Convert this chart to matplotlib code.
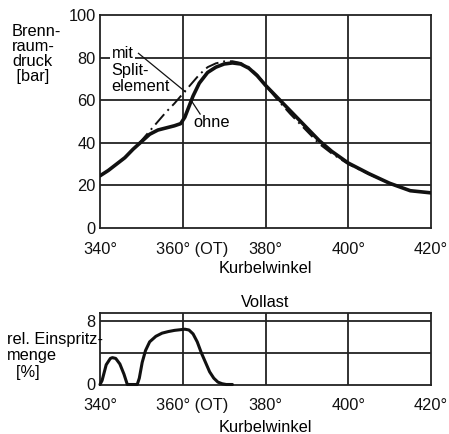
import matplotlib
matplotlib.use("Agg")
import matplotlib.pyplot as plt
import matplotlib.transforms as mtransforms

plt.rcParams['font.family'] = ['Liberation Sans', 'DejaVu Sans']

# ---- data: combustion chamber pressure ----
angle_ohne = [340, 342, 344, 346, 348, 350, 352, 354, 356, 358, 359.5, 360.5, 361.5,
              362.5, 364, 366, 368, 370, 372, 374, 376, 378, 380, 383, 386, 390,
              393, 396, 400, 405, 410, 415, 420]
p_ohne = [24.5, 27, 30, 33, 37, 40.5, 44, 46, 47, 48, 49, 52, 57,
          62, 68, 73, 75.5, 77, 77.5, 77, 75, 71.5, 67, 61, 55, 47,
          41, 36, 30.5, 25.5, 21, 17.5, 16.5]

angle_mit = [340, 342, 344, 346, 348, 350, 352, 354, 356, 358, 360, 362, 364, 366,
             368, 370, 372, 374, 376, 378, 380, 383, 386, 390, 393, 396, 400, 405,
             410, 415, 420]
p_mit = [24.5, 27, 30, 33, 37, 41, 45.5, 50, 54.5, 58.5, 63, 67.5, 72, 75.5,
         77.3, 78.2, 78.3, 77.5, 75.5, 72, 67, 60, 53.5, 45.5, 39.5, 35, 30, 25.3,
         21, 17.5, 16.5]

# ---- data: relative injection quantity ----
angle_inj = [340, 340.5, 341.5, 342.5, 343, 343.8, 344.8, 345.8, 346.6, 347, 349,
             349.5, 350.2, 351, 352, 353.5, 355, 356.5, 358, 360.5, 361.5, 362.5,
             363.5, 364.5, 365.5, 366.5, 367.5, 368.5, 369.5, 370.5, 372]
q_inj = [0, 0.5, 2.5, 3.3, 3.4, 3.3, 2.6, 1.3, 0, 0, 0,
         0.8, 2.8, 4.3, 5.4, 6.1, 6.5, 6.7, 6.85, 7.0, 6.9, 6.4,
         5.4, 4.0, 2.8, 1.6, 0.8, 0.3, 0.1, 0, 0]

x_ticks = [340, 360, 380, 400, 420]
x_labels = ['340°', '360° (OT)', '380°', '400°', '420°']
y_ticks_top = [0, 20, 40, 60, 80, 100]
y_ticks_bot = [0, 8]

W, H = 449, 434
fig = plt.figure(figsize=(W / 100, H / 100), dpi=100)

def ax_rect(l, t, r, b):
    return [l / W, 1 - b / H, (r - l) / W, (b - t) / H]

FS = 11.8
LW_GRID = 1.3
INK = '#111111'

ax1 = fig.add_axes(ax_rect(100, 15, 431, 228))
ax2 = fig.add_axes(ax_rect(100, 313, 431, 384.5))

for ax in (ax1, ax2):
    for s in ax.spines.values():
        s.set_linewidth(LW_GRID)
        s.set_color('#222222')
    ax.set_xlim(340, 420)
    ax.set_xticks(x_ticks)
    ax.set_xticklabels(x_labels, fontsize=FS)
    ax.tick_params(length=0, pad=10, colors=INK)
    ax.tick_params(axis='y', pad=3)
    for xv in x_ticks[1:-1]:
        ax.axvline(xv, color='#222222', lw=LW_GRID, zorder=1)
    lbl = ax.get_xticklabels()[1]
    lbl.set_transform(lbl.get_transform() +
                      mtransforms.ScaledTranslation(9 / 100, 0, fig.dpi_scale_trans))

# top chart
ax1.set_ylim(0, 100)
ax1.set_yticks(y_ticks_top)
ax1.set_yticklabels([str(v) for v in y_ticks_top], fontsize=FS)
for yv in [20, 40, 60, 80]:
    ax1.axhline(yv, color='#222222', lw=LW_GRID, zorder=1)
ax1.plot(angle_mit, p_mit, color=INK, lw=1.4,
         linestyle=(0, (7, 2.5, 1, 2.5)), zorder=3)
ax1.plot(angle_ohne, p_ohne, color=INK, lw=2.6, zorder=4,
         solid_capstyle='round', solid_joinstyle='round')
ax1.set_xlabel('Kurbelwinkel', fontsize=FS, labelpad=3)

box = dict(facecolor='white', edgecolor='none', pad=0.8)
ax1.text(342.8, 79.7, 'mit', fontsize=FS, ha='left', va='baseline', zorder=5, bbox=box)
ax1.text(342.8, 71.8, 'Split-', fontsize=FS, ha='left', va='baseline', zorder=5)
ax1.text(342.8, 64.3, 'element', fontsize=FS, ha='left', va='baseline', zorder=5)
ax1.plot([349.3, 360.6], [82, 64], color=INK, lw=0.9, zorder=5)
ax1.text(362.6, 47.4, 'ohne', fontsize=FS, ha='left', va='baseline', zorder=5,
         bbox=dict(facecolor='white', edgecolor='none', pad=0.5))
ax1.plot([362.0, 364.2], [60.0, 53.5], color=INK, lw=0.9, zorder=5)

fig.text(12 / W, 1 - 24 / H, 'Brenn-\nraum-\ndruck\n [bar]', fontsize=FS,
         ha='left', va='top', linespacing=1.0)

# bottom chart
ax2.set_ylim(0, 9.05)
ax2.set_yticks(y_ticks_bot)
ax2.set_yticklabels([str(v) for v in y_ticks_bot], fontsize=FS)
for yv in [4, 8]:
    ax2.axhline(yv, color='#222222', lw=LW_GRID, zorder=1)
ax2.plot(angle_inj, q_inj, color=INK, lw=2.2, zorder=4,
         solid_capstyle='round', solid_joinstyle='round', clip_on=False)
ax2.set_title('Vollast', fontsize=FS, pad=4)
ax2.set_xlabel('Kurbelwinkel', fontsize=FS, labelpad=5)

fig.text(7 / W, 1 - 332 / H, 'rel. Einspritz-\nmenge\n  [%]', fontsize=FS,
         ha='left', va='top', linespacing=1.12)

fig.savefig('out.png', dpi=100)
